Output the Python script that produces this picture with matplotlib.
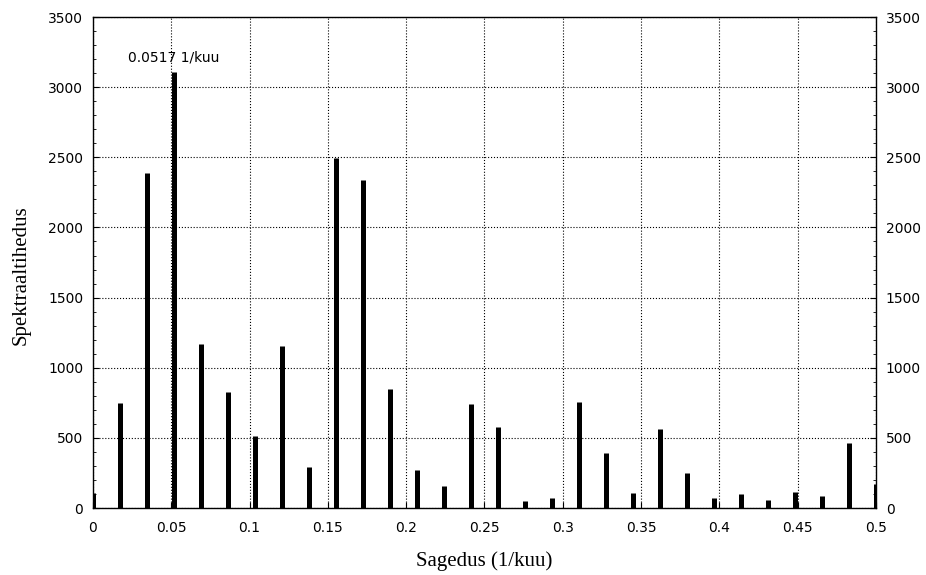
import matplotlib.pyplot as plt
from matplotlib.ticker import MultipleLocator

# periodogram ordinates at the Fourier frequencies k/58
freq = [0.0, 0.0172, 0.0345, 0.0517, 0.0690, 0.0862, 0.1034, 0.1207, 0.1379,
        0.1552, 0.1724, 0.1897, 0.2069, 0.2241, 0.2414, 0.2586, 0.2759, 0.2931,
        0.3103, 0.3276, 0.3448, 0.3621, 0.3793, 0.3966, 0.4138, 0.4310, 0.4483,
        0.4655, 0.4828, 0.5]
power = [110, 750, 2390, 3110, 1170, 825, 511, 1155, 294,
         2495, 2336, 850, 271, 159, 741, 575, 50, 71,
         758, 394, 105, 565, 249, 71, 102, 59, 114,
         88, 461, 171]

xticks = [0, 0.05, 0.1, 0.15, 0.2, 0.25, 0.3, 0.35, 0.4, 0.45, 0.5]
xtick_labels = ["0", "0.05", "0.1", "0.15", "0.2", "0.25", "0.3", "0.35", "0.4", "0.45", "0.5"]
peak_label = "0.0517 1/kuu"

fig = plt.figure(figsize=(9.26, 5.75), dpi=100)
ax = fig.add_axes([0.1004, 0.1165, 0.8456, 0.8539])

ax.vlines(freq, 0, power, colors="black", linewidth=3.6, capstyle="butt", zorder=3)

ax.set_xlim(0, 0.5)
ax.set_ylim(0, 3500)
ax.set_xticks(xticks, xtick_labels)
ax.yaxis.set_major_locator(MultipleLocator(500))
ax.yaxis.set_minor_locator(MultipleLocator(100))

ax.grid(True, which="major", color="black", linestyle=":", linewidth=0.8)
ax.tick_params(which="both", direction="in", right=True, labelright=True,
               labelsize=10)
ax.tick_params(axis="x", pad=9)
ax.tick_params(axis="y", pad=7)
ax.tick_params(which="major", length=4)
ax.tick_params(which="minor", length=2.5)

for s in ax.spines.values():
    s.set_linewidth(1.0)

i_peak = power.index(max(power))
ax.annotate(peak_label, xy=(freq[i_peak], power[i_peak]), xytext=(0, 5),
            textcoords="offset points", ha="center", va="bottom", fontsize=10)

ax.set_xlabel("Sagedus (1/kuu)", fontsize=15, fontfamily="Liberation Serif", labelpad=12)
ax.set_ylabel("Spektraaltihedus", fontsize=15, fontfamily="Liberation Serif")
ax.yaxis.set_label_coords(-0.08, 0.475)

fig.savefig("out.png", dpi=100)
